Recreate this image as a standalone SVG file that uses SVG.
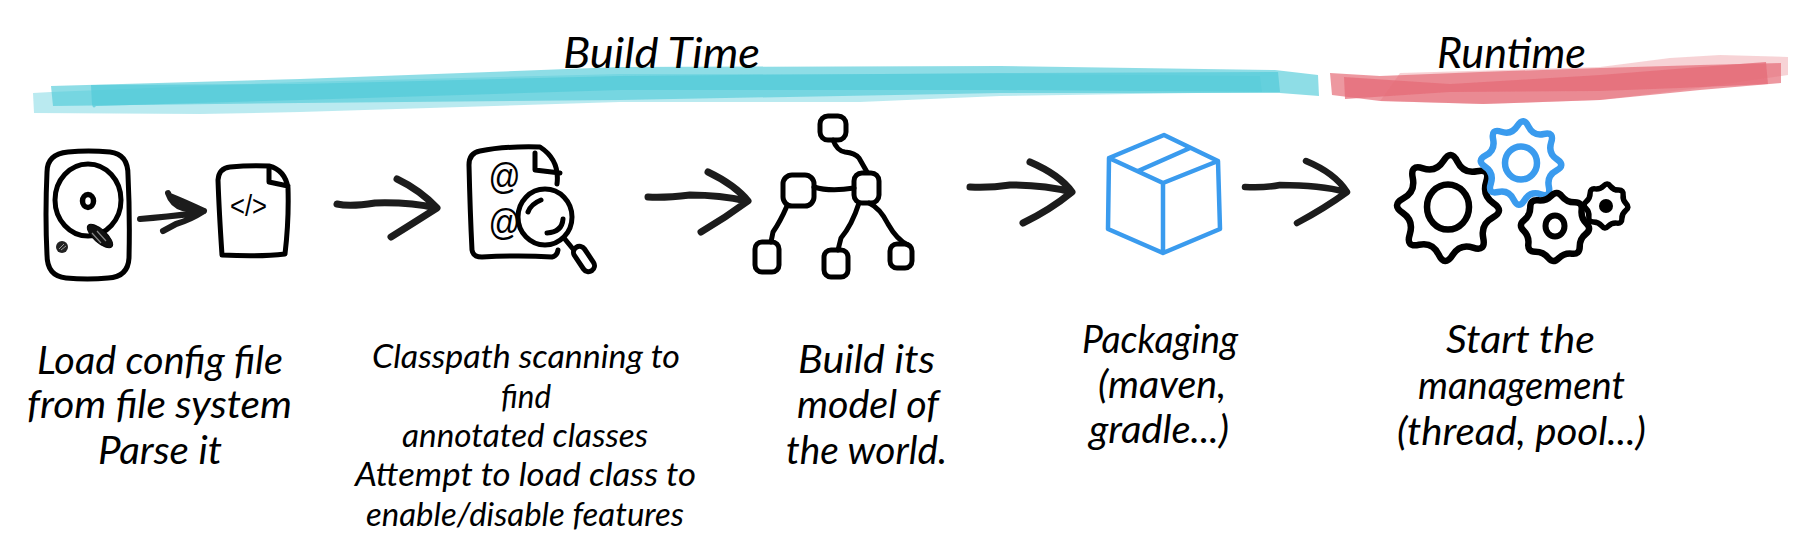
<svg xmlns="http://www.w3.org/2000/svg" width="1815" height="542" viewBox="0 0 1815 542">
<style>
text{font-family:"Lato","Open Sans",sans-serif;font-style:italic;fill:#000}
.h{font-size:42px}
.a{font-size:38px}
.b{font-size:33px}
.ink{fill:none;stroke:#000;stroke-width:5;stroke-linecap:round;stroke-linejoin:round}
.blue{fill:none;stroke:#3a9bee;stroke-width:4.5;stroke-linecap:round;stroke-linejoin:round}
.arrow{fill:none;stroke:#1c1c1c;stroke-width:7;stroke-linecap:round;stroke-linejoin:round}
.glyph{font-family:"Liberation Sans",sans-serif;font-style:normal}
.at{font-family:"Liberation Sans",sans-serif;font-style:italic;font-size:36px}
.gear{fill:none;stroke-width:6.5;stroke-linejoin:round}
</style>
<defs>
<path id="gear" vector-effect="non-scaling-stroke" d="M.9025-.138Q1.14 0 .9025.138Q.665.276.7355.541Q.806.806.541.7355Q.276.665.138.9025Q0 1.14-.138.9025Q-.276.665-.541.7355Q-.806.806-.7355.541Q-.665.276-.9025.138Q-1.14 0-.9025-.138Q-.665-.276-.7355-.541Q-.806-.806-.541-.7355Q-.276-.665-.138-.9025Q0-1.14.138-.9025Q.276-.665.541-.7355Q.806-.806.7355-.541Q.665-.276.9025-.138Z"/>
<path id="gear-s" vector-effect="non-scaling-stroke" d="M.8903-.1493Q1.06 0 .8903.1493Q.7206.2985.735.524Q.7495.7495.524.735Q.2985.7206.1493.8903Q0 1.06-.1493.8903Q-.2985.7206-.524.735Q-.7495.7495-.735.524Q-.7206.2985-.8903.1493Q-1.06 0-.8903-.1493Q-.7206-.2985-.735-.524Q-.7495-.7495-.524-.735Q-.2985-.7206-.1493-.8903Q0-1.06.1493-.8903Q.2985-.7206.524-.735Q.7495-.7495.735-.524Q.7206-.2985.8903-.1493Z"/>
<filter id="soft" x="-2%" y="-20%" width="104%" height="140%"><feGaussianBlur stdDeviation=".7"/></filter>
</defs>
<rect width="1815" height="542" fill="#fff"/>
<g id="band-build">
<path fill="#52cbd9" fill-opacity=".4" d="M33 93L51 92L300 82L620 74L1000 74L1260 76L1262 92L1000 96L860 102L620 102L300 112L200 114L34 113Z"/>
<path fill="#52cbd9" fill-opacity=".65" d="M51 86L300 79L620 67L1000 66L1275 70L1318 75L1319 96L1280 93L1000 93L620 100L300 103L53 106Z"/>
<path fill="#52cbd9" fill-opacity=".7" d="M91 85L300 84L620 76L1000 73L1278 72L1280 92L1000 90L620 90L300 100L96 106Q93 110 92 104Z"/>
<text class="h" x="563" y="68" textLength="197" lengthAdjust="spacingAndGlyphs">Build Time</text>
</g>
<g id="band-runtime">
<g filter="url(#soft)">
<path fill="#e66c78" fill-opacity=".3" d="M1400 73L1600 67L1670 58L1720 55L1788 57L1788 75L1700 88L1600 100L1483 104L1380 101Z"/>
<path fill="#e66c78" fill-opacity=".7" d="M1330 73L1380 76L1480 72L1600 68L1700 65L1781 63L1781 83L1700 90L1600 100L1483 104L1380 101L1332 95Z"/>
<path fill="#e66c78" fill-opacity=".75" d="M1344 77L1450 84L1600 75L1700 67L1766 62L1768 84L1680 88L1600 91L1450 92L1345 99Z"/>
</g>
<text class="h" x="1437" y="68" textLength="149" lengthAdjust="spacingAndGlyphs">Runtime</text>
</g>
<g id="connectors">
<path class="arrow" style="stroke-width:6" d="M140 219Q165 217 198 213M168 193Q172 205 183 208L204 211Q190 220 176 224L163 231M170 196Q185 202 204 211"/>
<path class="arrow" d="M337 204Q350 207 375 203Q410 202 436 208M397 179Q420 190 437 208Q415 222 391 237"/>
<path class="arrow" d="M648 197Q665 198 690 195Q720 195 747 201M708 172Q735 185 748 201Q725 218 701 232"/>
<path class="arrow" d="M970 187Q990 188 1010 185Q1045 185 1071 192M1030 162Q1060 175 1072 192Q1050 210 1023 223"/>
<path class="arrow" style="stroke-width:6.5" d="M1245 187Q1265 188 1280 185Q1320 185 1346 192M1306 161Q1335 173 1347 192Q1325 208 1297 223"/>
</g>
<g id="node-config">
<path class="ink" d="M68 152Q88 150 110 152Q128 154 128 175Q130 215 129 258Q128 277 108 278Q88 280 66 278Q47 276 47 255Q45 215 47 172Q47 154 68 152Z"/>
<ellipse class="ink" cx="88" cy="200" rx="33" ry="36"/>
<ellipse class="ink" style="stroke-width:5.5" cx="88" cy="201" rx="5.5" ry="6.5"/>
<ellipse cx="100" cy="236" rx="16" ry="6.5" transform="rotate(42 100 236)" fill="#111" stroke="#000"/>
<path d="M92 233L101 243M97 231L106 241" stroke="#888" stroke-width="1.2"/>
<circle cx="62" cy="247" r="6" fill="#222"/>
<path d="M59 249L64 244M61 250L66 246" stroke="#999" stroke-width="1"/>
<path class="ink" d="M230 167Q250 165 269 166Q285 170 288 188Q289 220 285 254Q260 257 222 255Q219 210 218 180Q219 168 230 167ZM269 167L269 182L288 186"/>
<text class="glyph" x="230" y="216" font-size="30" textLength="37" lengthAdjust="spacingAndGlyphs">&lt;/&gt;</text>
<text class="a" x="37" y="374" textLength="246" lengthAdjust="spacingAndGlyphs">Load config file</text>
<text class="a" x="27" y="418" textLength="265" lengthAdjust="spacingAndGlyphs">from file system</text>
<text class="a" x="98" y="464" textLength="124" lengthAdjust="spacingAndGlyphs">Parse it</text>
</g>
<g id="node-scan">
<path class="ink" d="M557 184Q560 160 540 147Q505 146 480 151Q469 153 469 165Q470 210 472 250Q473 257 482 257Q520 255 552 257Q557 256 558 250M535 153L535 170L560 173"/>
<text class="at" x="488" y="189" textLength="32" lengthAdjust="spacingAndGlyphs">@</text>
<text class="at" x="488" y="235" textLength="32" lengthAdjust="spacingAndGlyphs">@</text>
<ellipse class="ink" cx="545" cy="217" rx="27" ry="28" style="fill:#fff"/>
<path class="ink" d="M528 212Q531 204 541 200M563 219Q562 232 547 233"/>
<path class="ink" d="M564 238L573 249"/>
<rect class="ink" x="570" y="253" width="28" height="12" rx="6" transform="rotate(56 584 259)"/>
<text class="b" x="372" y="368" textLength="308" lengthAdjust="spacingAndGlyphs">Classpath scanning to</text>
<text class="b" x="501" y="408" textLength="50" lengthAdjust="spacingAndGlyphs">find</text>
<text class="b" x="402" y="447" textLength="246" lengthAdjust="spacingAndGlyphs">annotated classes</text>
<text class="b" x="355" y="486" textLength="341" lengthAdjust="spacingAndGlyphs">Attempt to load class to</text>
<text class="b" x="366" y="526" textLength="318" lengthAdjust="spacingAndGlyphs">enable/disable features</text>
</g>
<g id="node-model">
<rect class="ink" x="820" y="116" width="26" height="24" rx="8"/>
<rect class="ink" x="783" y="175" width="31" height="31" rx="9"/>
<rect class="ink" x="854" y="173" width="25" height="30" rx="8"/>
<rect class="ink" x="755" y="242" width="24" height="30" rx="7"/>
<rect class="ink" x="824" y="250" width="24" height="27" rx="7"/>
<rect class="ink" x="890" y="244" width="22" height="24" rx="7"/>
<path class="ink" d="M833 140Q837 151 845 152Q855 153 859 158L867 172M814 187Q830 192 854 188M787 206Q780 222 773 232L771 242M859 203Q852 225 841 238L838 250M869 203Q880 208 888 224Q897 240 908 245"/>
<text class="a" x="798" y="373" textLength="137" lengthAdjust="spacingAndGlyphs">Build its</text>
<text class="a" x="797" y="418" textLength="142" lengthAdjust="spacingAndGlyphs">model of</text>
<text class="a" x="786" y="464" textLength="161" lengthAdjust="spacingAndGlyphs">the world.</text>
</g>
<g id="node-package">
<path class="blue" d="M1164 135L1218 161L1220 229L1163 253L1108 229L1109 158ZM1109 158L1163 183L1218 161M1163 183L1163 253M1138 171L1190 148"/>
<text class="a" x="1082" y="353" textLength="156" lengthAdjust="spacingAndGlyphs">Packaging</text>
<text class="a" x="1098" y="398" textLength="128" lengthAdjust="spacingAndGlyphs">(maven,</text>
<text class="a" x="1089" y="443" textLength="140" lengthAdjust="spacingAndGlyphs">gradle...)</text>
</g>
<g id="node-runtime">
<use href="#gear" class="gear" stroke="#000" transform="translate(1448 208) rotate(3) scale(50 52)"/>
<ellipse class="ink" style="stroke-width:6.5" cx="1448" cy="207" rx="21" ry="22.5"/>
<use href="#gear" class="gear" stroke="#3a9bee" transform="translate(1521 163) rotate(3) scale(39.5 41)"/>
<ellipse fill="none" stroke="#3a9bee" stroke-width="6.5" cx="1521" cy="163" rx="16" ry="16.5"/>
<use href="#gear-s" class="gear" stroke="#000" transform="translate(1555 227) rotate(3) scale(35 35)"/>
<ellipse class="ink" style="stroke-width:6" cx="1555" cy="226" rx="9.5" ry="10.5"/>
<use href="#gear-s" class="gear" style="stroke-width:5.5" stroke="#000" transform="translate(1606 206) rotate(3) scale(22.5 22.5)"/>
<circle cx="1606" cy="206" r="7" fill="#000"/>
<text class="a" x="1446" y="353" textLength="149" lengthAdjust="spacingAndGlyphs">Start the</text>
<text class="a" x="1418" y="399" textLength="207" lengthAdjust="spacingAndGlyphs">management</text>
<text class="a" x="1397" y="445" textLength="249" lengthAdjust="spacingAndGlyphs">(thread, pool...)</text>
</g>
</svg>
